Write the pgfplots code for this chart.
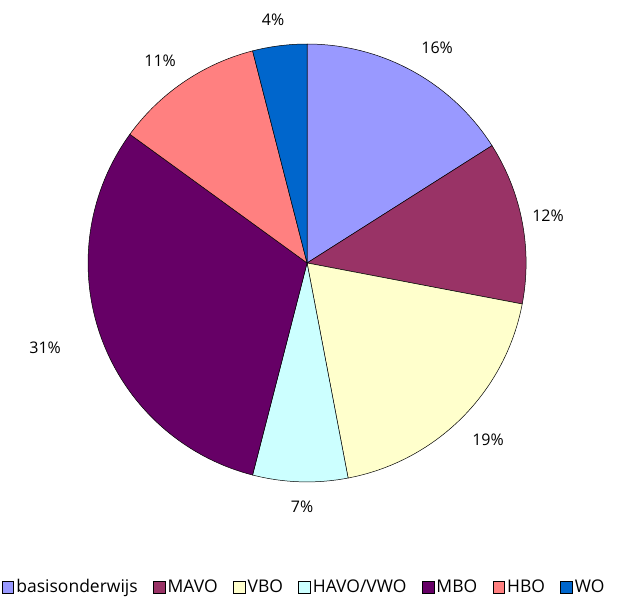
\documentclass[border=0pt]{standalone}
\usepackage{pgfplots}
\pgfplotsset{compat=1.18}
\usepackage{fontspec}
\setmainfont{Open Sans}
\definecolor{cA}{HTML}{9999FF}
\definecolor{cB}{HTML}{993366}
\definecolor{cC}{HTML}{FFFFCC}
\definecolor{cD}{HTML}{CCFFFF}
\definecolor{cE}{HTML}{660066}
\definecolor{cF}{HTML}{FF8080}
\definecolor{cG}{HTML}{0066CC}
% shares in percent
\def\vA{16}\def\vB{12}\def\vC{19}\def\vD{7}\def\vE{31}\def\vF{11}\def\vG{4}
\begin{document}
\begin{tikzpicture}
\begin{axis}[
  scale only axis, width=624bp, height=596bp,
  xmin=-1.402, xmax=1.447, ymin=-1.521, ymax=1.201,
  hide axis, clip=false,
  every axis plot/.append style={draw=black, line width=0.5pt, samples=90, smooth},
  legend columns=7,
  legend style={draw=none, fill=none, at={(0.488,0.015)}, anchor=center,
    nodes={inner sep=2.5bp, font=\fontsize{17.5bp}{19bp}\selectfont},
    /tikz/every even column/.append style={column sep=13bp},
    inner sep=0pt},
  legend image code/.code={\draw[#1,draw=black,line width=0.4pt] (0bp,-5.75bp) rectangle (11.5bp,5.75bp);},
]
\path (rel axis cs:0,0) rectangle (rel axis cs:1,1);
\addplot[fill=cA, domain={90-3.6*(\vA)}:90] ({cos(x)},{sin(x)}) -- (0,0) -- cycle;
\addlegendentry{basisonderwijs}
\addplot[fill=cB, domain={90-3.6*(\vA+\vB)}:{90-3.6*(\vA)}] ({cos(x)},{sin(x)}) -- (0,0) -- cycle;
\addlegendentry{MAVO}
\addplot[fill=cC, domain={90-3.6*(\vA+\vB+\vC)}:{90-3.6*(\vA+\vB)}] ({cos(x)},{sin(x)}) -- (0,0) -- cycle;
\addlegendentry{VBO}
\addplot[fill=cD, domain={90-3.6*(\vA+\vB+\vC+\vD)}:{90-3.6*(\vA+\vB+\vC)}] ({cos(x)},{sin(x)}) -- (0,0) -- cycle;
\addlegendentry{HAVO/VWO}
\addplot[fill=cE, domain={90-3.6*(\vA+\vB+\vC+\vD+\vE)}:{90-3.6*(\vA+\vB+\vC+\vD)}] ({cos(x)},{sin(x)}) -- (0,0) -- cycle;
\addlegendentry{MBO}
\addplot[fill=cF, domain={90-3.6*(\vA+\vB+\vC+\vD+\vE+\vF)}:{90-3.6*(\vA+\vB+\vC+\vD+\vE)}] ({cos(x)},{sin(x)}) -- (0,0) -- cycle;
\addlegendentry{HBO}
\addplot[fill=cG, domain={90-3.6*(\vA+\vB+\vC+\vD+\vE+\vF+\vG)}:{90-3.6*(\vA+\vB+\vC+\vD+\vE+\vF)}] ({cos(x)},{sin(x)}) -- (0,0) -- cycle;
\addlegendentry{WO}
\begin{scope}[every node/.style={font=\fontsize{16bp}{18bp}\selectfont, inner sep=0pt}]
\node at (axis cs:0.594,0.982) {\vA\%};
\node at (axis cs:1.100,0.215) {\vB\%};
\node at (axis cs:0.826,-0.808) {\vC\%};
\node at (axis cs:-0.023,-1.114) {\vD\%};
\node at (axis cs:-1.196,-0.388) {\vE\%};
\node at (axis cs:-0.671,0.922) {\vF\%};
\node at (axis cs:-0.155,1.110) {\vG\%};
\end{scope}
\end{axis}
\end{tikzpicture}
\end{document}
